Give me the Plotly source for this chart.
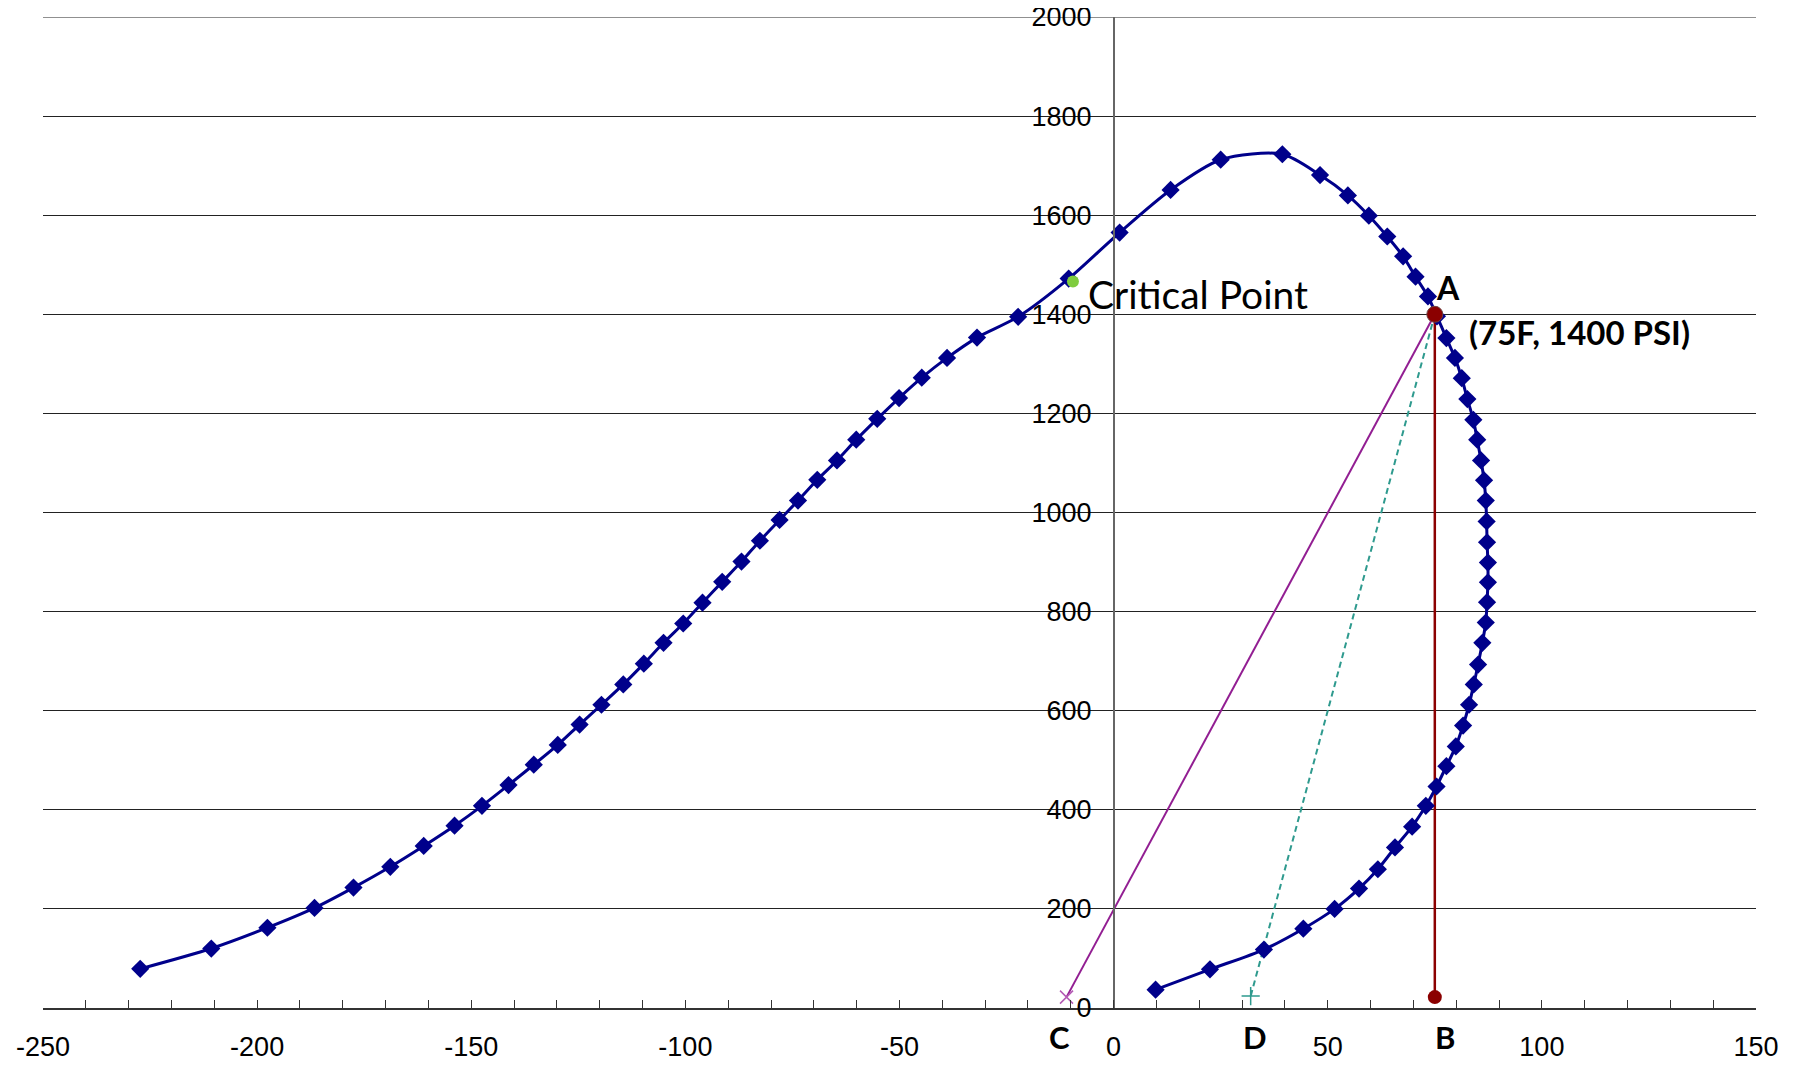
import plotly.graph_objects as go

# Phase envelope (temperature F, pressure PSI)
curve_temp = [-227.3, -210.7, -197.6, -186.6, -177.5, -168.9, -161.1, -153.9, -147.5, -141.3,
              -135.4, -129.8, -124.7, -119.6, -114.5, -109.7, -105.1, -100.5, -96.0, -91.4,
              -86.9, -82.6, -78.0, -73.7, -69.2, -64.6, -60.1, -55.2, -50.1, -44.8,
              -38.9, -31.9, -22.3, -10.5, 1.4, 13.3, 25.0, 39.4, 48.2, 54.7,
              59.6, 63.9, 67.6, 70.5, 73.4, 75.5, 77.7, 79.7, 81.3, 82.6,
              84.0, 84.9, 85.8, 86.5, 86.9, 87.1, 87.2, 87.4, 87.4, 87.2,
              86.9, 86.1, 85.1, 84.1, 83.0, 81.6, 79.9, 77.7, 75.4, 72.9,
              69.7, 65.7, 61.7, 57.3, 51.6, 44.3, 35.1, 22.5, 9.8]
curve_pres = [79, 120, 162, 202, 243, 285, 327, 368, 408, 450,
              491, 531, 572, 612, 653, 695, 737, 776, 818, 860,
              901, 943, 985, 1024, 1066, 1105, 1147, 1189, 1231, 1272,
              1312, 1353, 1395, 1472, 1565, 1651, 1712, 1723, 1681, 1640,
              1599, 1557, 1517, 1476, 1436, 1396, 1352, 1312, 1271, 1229,
              1187, 1147, 1105, 1065, 1024, 982, 940, 899, 859, 819,
              778, 737, 693, 653, 612, 570, 528, 488, 447, 408,
              366, 324, 280, 241, 200, 160, 118, 78, 37]

critical_point = (-9.5, 1466)
point_a = (75, 1400)
point_b = (75, 22)
point_c = (-11, 22)
point_d = (32, 24)

x_ticks = [-250, -200, -150, -100, -50, 0, 50, 100, 150]
x_tick_labels = ["-250", "-200", "-150", "-100", "-50", "0", "50", "100", "150"]
y_ticks = [0, 200, 400, 600, 800, 1000, 1200, 1400, 1600, 1800, 2000]
y_tick_labels = ["0", "200", "400", "600", "800", "1000", "1200", "1400", "1600", "1800", "2000"]

fig = go.Figure()

# A -> C (solid purple)
fig.add_trace(go.Scatter(x=[point_a[0], point_c[0]], y=[point_a[1], point_c[1]], mode="lines",
                         line=dict(color="#921E92", width=2), showlegend=False))
fig.add_trace(go.Scatter(x=[point_c[0]], y=[point_c[1]], mode="markers",
                         marker=dict(symbol="x-thin", size=13, color="#B45AB4",
                                     line=dict(color="#B45AB4", width=1.5)),
                         cliponaxis=False, showlegend=False))
# A -> D (dashed teal)
fig.add_trace(go.Scatter(x=[point_a[0], point_d[0]], y=[point_a[1], point_d[1]], mode="lines",
                         line=dict(color="#2E9A8E", width=2, dash="6px,4px"), showlegend=False))
fig.add_trace(go.Scatter(x=[point_d[0]], y=[point_d[1]], mode="markers",
                         marker=dict(symbol="cross-thin", size=13, color="#2E9A8E",
                                     line=dict(color="#2E9A8E", width=1.5)),
                         cliponaxis=False, showlegend=False))
# A -> B (solid dark red)
fig.add_trace(go.Scatter(x=[point_a[0], point_b[0]], y=[point_a[1], point_b[1]], mode="lines",
                         line=dict(color="#8B0000", width=2.5), showlegend=False))
fig.add_trace(go.Scatter(x=[point_b[0]], y=[point_b[1]], mode="markers",
                         marker=dict(symbol="circle", size=14, color="#8B0000"),
                         cliponaxis=False, showlegend=False))
# Envelope
fig.add_trace(go.Scatter(x=curve_temp, y=curve_pres, mode="lines+markers",
                         line=dict(color="#00008B", width=3, shape="spline", smoothing=0.8),
                         marker=dict(symbol="diamond", size=14, color="#00008B"),
                         cliponaxis=False, showlegend=False))
# Point A
fig.add_trace(go.Scatter(x=[point_a[0]], y=[point_a[1]], mode="markers",
                         marker=dict(symbol="circle", size=16, color="#8B0000",
                                     line=dict(color="#6E4040", width=1)),
                         cliponaxis=False, showlegend=False))
# Critical point
fig.add_trace(go.Scatter(x=[critical_point[0]], y=[critical_point[1]], mode="markers",
                         marker=dict(symbol="circle", size=12, color="#7FCC3F"),
                         cliponaxis=False, showlegend=False))

# top gridline (plotly hides the one on the range edge)
fig.add_shape(type="line", xref="x", yref="y", x0=-250, x1=150, y0=y_ticks[-1], y1=y_ticks[-1],
              line=dict(color="#222222", width=1.2), layer="below")

label_font = dict(family="Lato", color="black")
fig.add_annotation(x=-6.5, y=1441, xref="x", yref="y", text="Critical Point", showarrow=False,
                   xanchor="left", yanchor="middle", font=dict(size=39, **label_font))
fig.add_annotation(x=74.8, y=1455, xref="x", yref="y", text="<b>A</b>", showarrow=False,
                   xanchor="left", yanchor="middle", font=dict(size=32, **label_font))
fig.add_annotation(x=82.5, y=1365, xref="x", yref="y", text="<b>(75F, 1400 PSI)</b>", showarrow=False,
                   xanchor="left", yanchor="middle", font=dict(size=33, **label_font))
for lbl, lx in [("C", -12.6), ("D", 32.9), ("B", 77.3)]:
    fig.add_annotation(x=lx, y=-0.029, xref="x", yref="paper", text=f"<b>{lbl}</b>", showarrow=False,
                       xanchor="center", yanchor="middle", font=dict(size=31, **label_font))

fig.update_layout(
    width=1793, height=1057,
    margin=dict(l=34.5, r=45, t=9, b=56.5),
    paper_bgcolor="white", plot_bgcolor="white",
    font=dict(family="Liberation Sans", size=27, color="black"),
    xaxis=dict(range=[-250, 150], tickvals=x_ticks, ticktext=x_tick_labels, showgrid=False, zeroline=False,
               showline=True, linecolor="#333333", linewidth=1.5, automargin=False,
               ticks="inside", ticklen=8, tickcolor="#333333", tickwidth=1,
               minor=dict(dtick=10, tick0=0, ticks="inside", ticklen=8, tickcolor="#333333", tickwidth=1),
               ticklabelstandoff=14, ticklabeloverflow="allow"),
    yaxis=dict(range=[0, 2000], tickvals=y_ticks, ticktext=y_tick_labels, anchor="free", position=0.625,
               showgrid=True, gridcolor="#222222", gridwidth=1.2, zeroline=False, automargin=False,
               showline=True, linecolor="#666666", linewidth=1.5, ticks="",
               ticklabelstandoff=16, ticklabeloverflow="allow"),
)

fig.write_html("out.html")
